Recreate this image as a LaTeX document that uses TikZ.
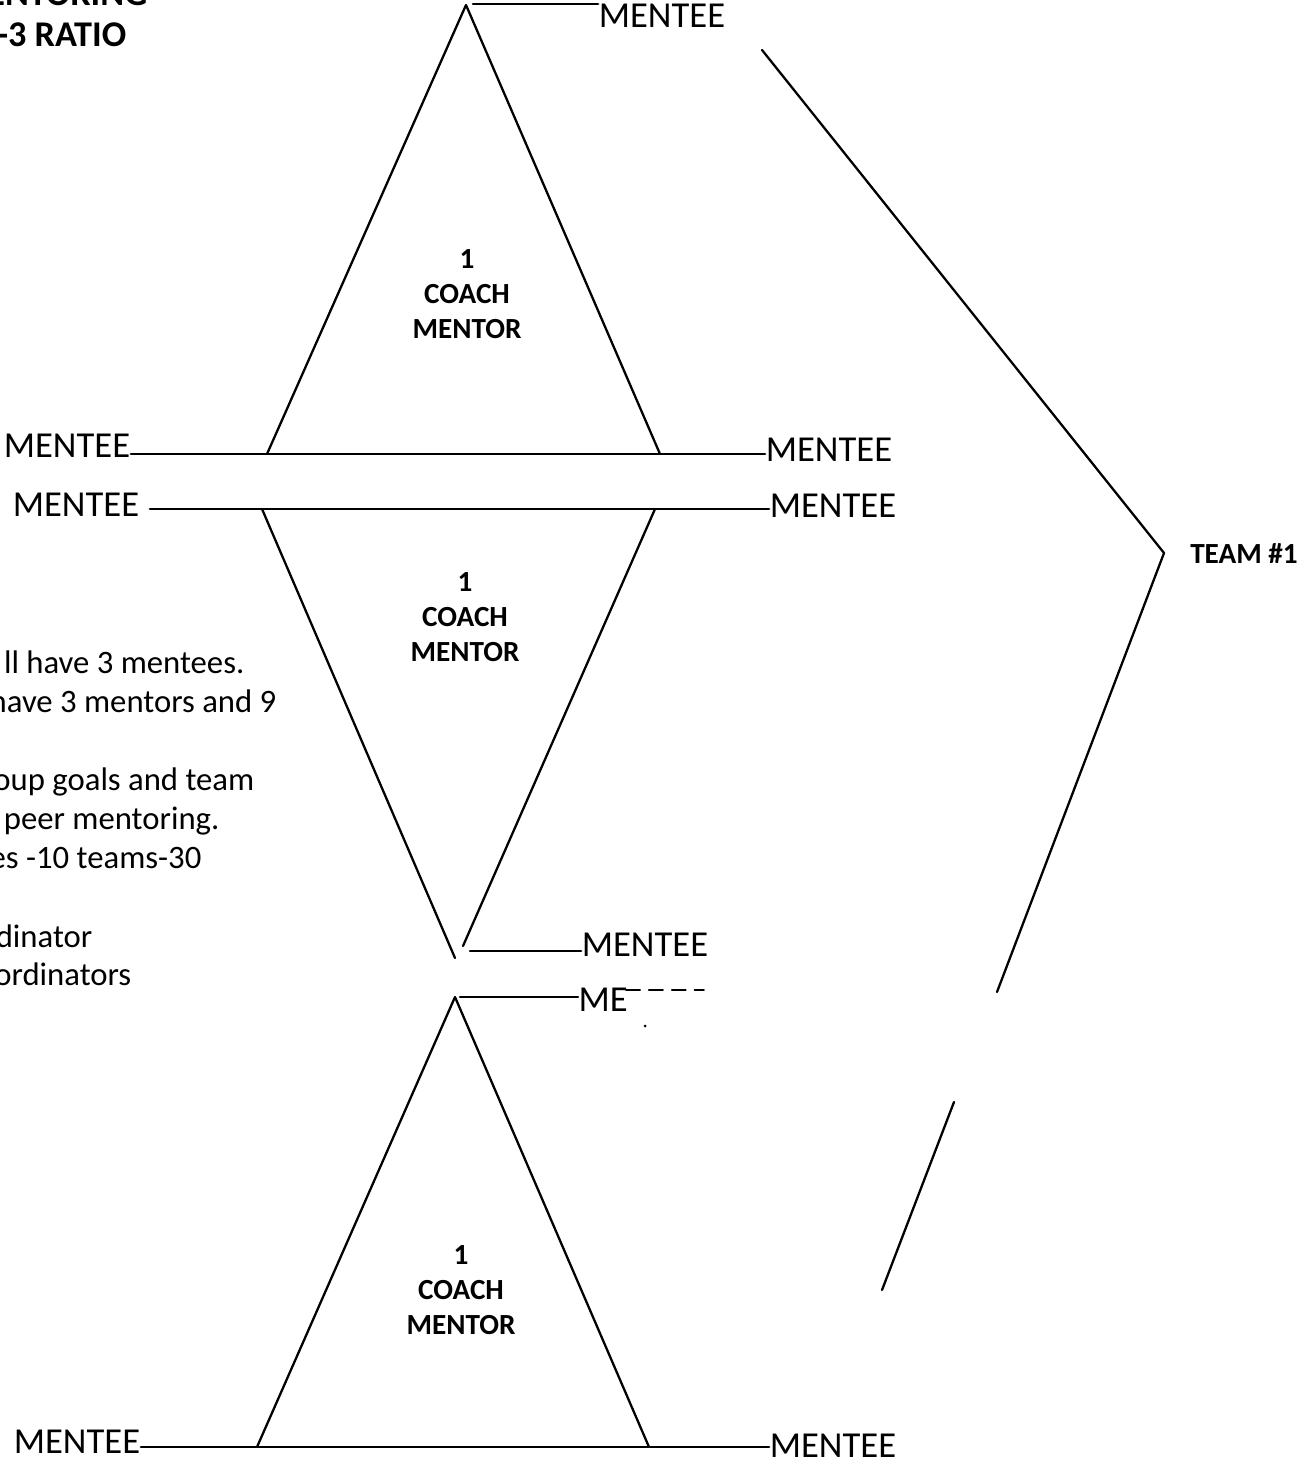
\documentclass[tikz,border=0pt]{standalone}
\usepackage{fontspec}
\setmainfont{Carlito}
\usetikzlibrary{positioning}
\begin{document}
\begin{tikzpicture}[line cap=round,line join=round,x=0.01cm,y=-0.01cm,
  mentee/.style={inner sep=0pt,font=\fontsize{10.4}{12}\selectfont},
  coach/.style={align=center,inner sep=0pt,font=\bfseries\fontsize{8.3}{10}\selectfont},
  note/.style={anchor=base east,inner sep=0pt,font=\fontsize{9.3}{11}\selectfont},
  head/.style={anchor=base east,inner sep=0pt,font=\bfseries\fontsize{10.3}{12}\selectfont},
  side/.style={line width=0.65pt}]
\useasboundingbox (0,0) rectangle (1302,1464);
\clip (0,0) rectangle (1302,1464);
% heading and notes, cut at the left edge
\node[head] (title) at (148,6) {ENTORING};
\node[head] (ratio) at (127,47) {-3 RATIO};
\node[note] (n1) at (245,673) {ll have 3 mentees.};
\node[note] (n2) at (277,712) {have 3 mentors and 9};
\node[note] (n3) at (255,790) {oup goals and team};
\node[note] (n4) at (220,829) {g peer mentoring.};
\node[note] (n5) at (202,868) {es -10 teams-30};
\node[note] (n6) at (93,947) {rdinator};
\node[note] (n7) at (132,985) {ordinators};
% triangle corners
\coordinate (t1a) at (466,5);
\coordinate (t1l) at (267,454);
\coordinate (t1r) at (660,454);
\coordinate (t2l) at (262,509);
\coordinate (t2r) at (655,509);
\coordinate (t2a) at (455,958);
\coordinate (t3a) at (455,997);
\coordinate (t3l) at (257,1447);
\coordinate (t3r) at (649,1447);
% coach mentors
\node[coach] (c1) at (467,294) {1\\COACH\\MENTOR};
\node[coach] (c2) at (465,617) {1\\COACH\\MENTOR};
\node[coach] (c3) at (461,1290) {1\\COACH\\MENTOR};
% mentees
\node[mentee] (m1) at (662,16) {MENTEE};
\node[mentee] (m2) at (67,446) {MENTEE};
\node[mentee] (m3) at (829,450) {MENTEE};
\node[mentee] (m4) at (76,505) {MENTEE};
\node[mentee] (m5) at (833,506) {MENTEE};
\node[mentee] (m6) at (645,945) {MENTEE};
\node[mentee,anchor=west] (m7) at (578,1000) {ME};
\node[mentee] (m8) at (77,1442) {MENTEE};
\node[mentee] (m9) at (833,1446) {MENTEE};
% team
\node[coach] (team) at (1244,554) {TEAM \#1};
\coordinate (b1) at (762,50);
\coordinate (b2) at (1164,553);
\coordinate (b3) at (997,992);
\coordinate (b4) at (954,1102);
\coordinate (b5) at (882,1290);
% triangles
\draw [side] (t1l)-- (t1a)-- (t1r);
\draw [side] (t2l)-- (t2a);
\draw [side] (t2r)-- (463,946);
\draw [side] (t3l)-- (t3a)-- (t3r);
% lines to mentees
\draw [side] (473,4)-- (m1.west |- 473,4);
\draw [side] (m2.east |- t1l)-- (m3.west |- t1r);
\draw [side,shorten <=0.1cm] (m4.east |- t2l)-- (m5.west |- t2r);
\draw [side] (470,951)-- (m6.west |- 470,951);
\draw [side] (460,997)-- (m7.west |- 460,997);
\draw [side] (m8.east |- t3l)-- (m9.west |- t3r);
% what is left of the erased word
\draw [line width=0.5pt,dash pattern=on 4pt off 2.5pt] (626,990)-- (704,990);
\fill (645,1026) circle (1.5);
% team bracket
\draw [side] (b1)-- (b2)-- (b3);
\draw [side] (b4)-- (b5);
\end{tikzpicture}
\end{document}
